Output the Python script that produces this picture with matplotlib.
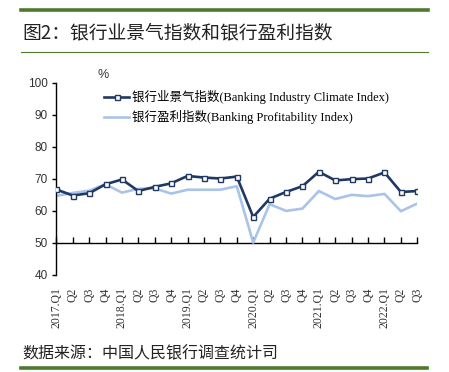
import numpy as np
import matplotlib
matplotlib.use("Agg")
import matplotlib.pyplot as plt
from matplotlib.lines import Line2D

plt.rcParams['font.family'] = ['Liberation Serif', 'Noto Sans CJK SC', 'DejaVu Sans']

# quarters 2017.Q1 .. 2022.Q3
quarters = ['2017.Q1', 'Q2', 'Q3', 'Q4',
            '2018.Q1', 'Q2', 'Q3', 'Q4',
            '2019.Q1', 'Q2', 'Q3', 'Q4',
            '2020.Q1', 'Q2', 'Q3', 'Q4',
            '2021.Q1', 'Q2', 'Q3', 'Q4',
            '2022.Q1', 'Q2', 'Q3']

climate = [66.7, 64.8, 65.5, 68.3, 69.8, 66.2, 67.5, 68.6,
           70.9, 70.4, 70.1, 70.7, 58.1, 63.8, 65.9, 67.7,
           72.2, 69.5, 69.9, 70.1, 72.0, 65.9, 66.2]
profit = [64.7, 65.6, 66.3, 68.3, 65.7, 66.9, 67.0, 65.4,
          66.6, 66.6, 66.6, 67.7, 50.1, 62.1, 60.0, 60.7,
          66.2, 63.7, 65.0, 64.6, 65.3, 59.9, 62.3]

label_climate = '银行业景气指数(Banking Industry Climate Index)'
label_profit = '银行盈利指数(Banking Profitability Index)'

dark = '#1f3864'
light = '#a9c3ea'
green = '#4f7a2c'

fig = plt.figure(figsize=(4.49, 3.72), dpi=100)
ax = fig.add_axes([0.1254, 0.2608, 0.8040, 0.5169])

x = np.arange(len(quarters))
ax.plot(x, climate, color=dark, lw=1.9, marker='s', markersize=3.6,
        mfc='white', mec=dark, mew=1.0, label=label_climate, zorder=3)
ax.plot(x, profit, color=light, lw=1.9, label=label_profit, zorder=2)

ax.set_xlim(0, len(quarters) - 1)
ax.set_ylim(40, 100)
ax.set_yticks(np.arange(40, 101, 10))
for s in ['top', 'right', 'bottom']:
    ax.spines[s].set_visible(False)
ax.spines['left'].set_linewidth(1.0)
ax.tick_params(axis='y', direction='out', length=3, width=1, pad=3,
               labelsize=8.5, labelcolor='#333333')
for t in ax.get_yticklabels():
    t.set_family(['Liberation Sans', 'DejaVu Sans'])

ax.set_xticks(x)
ax.set_xticklabels(quarters, rotation=90, fontsize=8.5, color='#333333')
ax.tick_params(axis='x', length=0, pad=9)

# axis line drawn at y = 50 with inward ticks
sec = ax.secondary_xaxis(1 / 6)
sec.set_xticks(x)
sec.tick_params(direction='in', length=4, width=1, labelbottom=False)
sec.spines['bottom'].set_linewidth(1.0)

ax.text(0.13, 1.04, '%', transform=ax.transAxes, fontsize=9,
        family=['Liberation Sans', 'DejaVu Sans'], ha='center', va='center', color='#333333')

fig.legend(loc='upper left', bbox_to_anchor=(0.232, 0.757), frameon=False,
           fontsize=9, handlelength=2.0, handletextpad=0.25, labelspacing=0.45,
           borderpad=0, borderaxespad=0)

# frame lines and texts
fig.add_artist(Line2D([0.047, 0.953], [0.973, 0.973], color=green, lw=2.6))
fig.add_artist(Line2D([0.047, 0.953], [0.861, 0.861], color=green, lw=0.8))
fig.add_artist(Line2D([0.047, 0.951], [0.010, 0.010], color=green, lw=2.6))
fig.text(0.049, 0.912, '图2：银行业景气指数和银行盈利指数', fontsize=13.5,
         family=['Noto Sans CJK SC'], color='#222222', va='center', ha='left')
fig.text(0.049, 0.048, '数据来源：中国人民银行调查统计司', fontsize=11.5,
         family=['Noto Sans CJK SC'], color='#222222', va='center', ha='left')

fig.savefig('out.png', dpi=100)
